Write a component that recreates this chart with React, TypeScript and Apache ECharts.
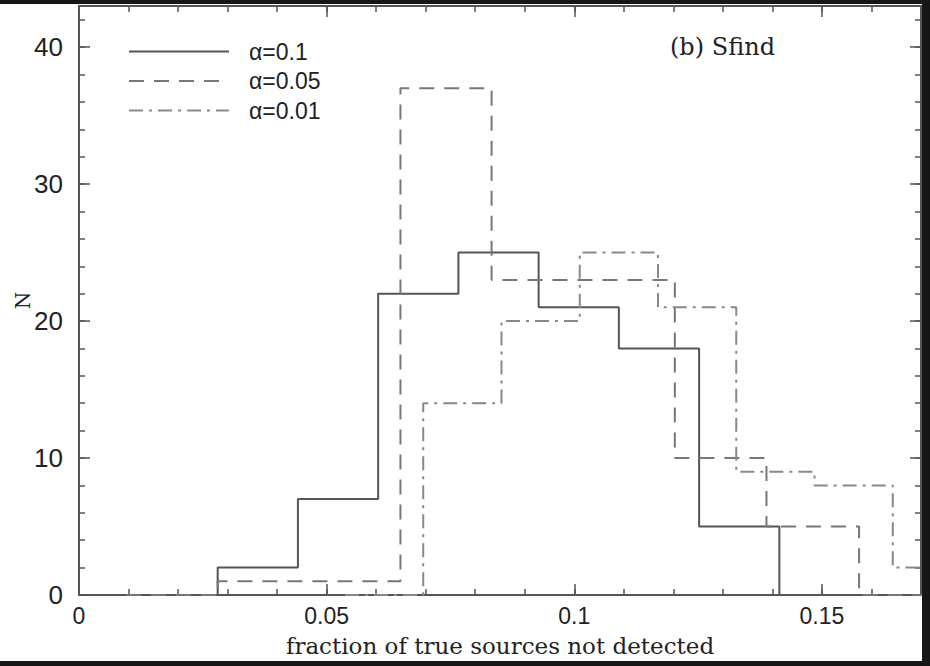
import React, { useEffect, useRef } from 'react';
import * as echarts from 'echarts';

// Histogram bin edges and counts
const solidEdges = [0.0118, 0.028, 0.0442, 0.0604, 0.0766, 0.0928, 0.109, 0.1252, 0.1414, 0.1576];
const solidCounts = [0, 2, 7, 22, 25, 21, 18, 5, 0];

const dashedEdges = [0.0095, 0.028, 0.0465, 0.0649, 0.0833, 0.1018, 0.1203, 0.1388, 0.1575, 0.176];
const dashedCounts = [0, 1, 1, 37, 23, 23, 10, 5, 0];

const dashdotEdges = [0.0537, 0.0695, 0.0853, 0.1011, 0.1169, 0.1327, 0.1485, 0.1643, 0.1801];
const dashdotCounts = [0, 14, 20, 25, 21, 9, 8, 2];

const seriesNames = ['\u03B1=0.1', '\u03B1=0.05', '\u03B1=0.01'];

const xTicks = [0, 0.05, 0.1, 0.15];
const xTickLabels = ['0', '0.05', '0.1', '0.15'];
const yTicks = [0, 10, 20, 30, 40];
const yTickLabels = ['0', '10', '20', '30', '40'];

const xTitle = 'fraction of true sources not detected';
const yTitle = 'N';
const panelLabel = '(b) Sfind';

function stepPoints(edges: number[], counts: number[]) {
  const pts: number[][] = [];
  for (let i = 0; i < counts.length; i++) {
    pts.push([edges[i], counts[i]]);
    pts.push([edges[i + 1], counts[i]]);
  }
  return pts;
}

function labelFor(ticks: number[], labels: string[]) {
  return (v: number) => {
    for (let i = 0; i < ticks.length; i++) {
      if (Math.abs(v - ticks[i]) < 1e-9) return labels[i];
    }
    return '';
  };
}

const AX = '#555';

export default function App() {
  const ref = useRef<HTMLDivElement>(null);

  useEffect(() => {
    if (!ref.current) return;
    const chart = echarts.init(ref.current, undefined, { renderer: 'svg' });

    const xBase = { type: 'value', min: 0, max: 0.17, splitLine: { show: false } };
    const yBase = { type: 'value', min: 0, max: 43, splitLine: { show: false } };
    const mainLine = { show: true, onZero: false, lineStyle: { color: AX, width: 2 } };
    const noLine = { show: false, onZero: false };
    const majorTick = { show: true, inside: true, length: 11, lineStyle: { color: AX, width: 1.5 } };
    const minorTick = { show: true, inside: true, length: 6, lineStyle: { color: AX, width: 1.5 } };

    const option: any = {
      animation: false,
      backgroundColor: '#ffffff',
      grid: { left: 79, top: 2, right: 1, bottom: 66, containLabel: false, outerBoundsMode: 'none' },
      title: {
        text: panelLabel,
        left: 670,
        top: 31,
        padding: 0,
        textStyle: { fontFamily: 'DejaVu Serif', fontSize: 24, fontWeight: 'normal', color: '#222' },
      },
      legend: {
        orient: 'vertical',
        left: 128,
        top: 36,
        padding: 0,
        itemWidth: 100,
        itemHeight: 14,
        itemGap: 6.5,
        itemStyle: { opacity: 0 },
        textStyle: {
          fontFamily: 'Liberation Sans',
          fontSize: 23,
          lineHeight: 20,
          color: '#222',
          padding: [0, 0, 0, 15],
        },
        data: seriesNames,
      },
      xAxis: [
        {
          ...xBase,
          position: 'bottom',
          interval: 0.05,
          axisLine: mainLine,
          axisTick: majorTick,
          axisLabel: {
            show: true,
            margin: 9,
            fontFamily: 'Liberation Sans',
            fontSize: 23,
            color: '#222',
            formatter: labelFor(xTicks, xTickLabels),
          },
          name: xTitle,
          nameLocation: 'middle',
          nameGap: 39,
          nameMoveOverlap: false,
          nameTextStyle: { fontFamily: 'DejaVu Serif', fontSize: 23, color: '#222' },
        },
        { ...xBase, position: 'bottom', interval: 0.01, axisLine: noLine, axisTick: minorTick, axisLabel: { show: false } },
        { ...xBase, position: 'top', interval: 0.05, axisLine: mainLine, axisTick: majorTick, axisLabel: { show: false } },
        { ...xBase, position: 'top', interval: 0.01, axisLine: noLine, axisTick: minorTick, axisLabel: { show: false } },
      ],
      yAxis: [
        {
          ...yBase,
          position: 'left',
          interval: 10,
          axisLine: mainLine,
          axisTick: majorTick,
          axisLabel: {
            show: true,
            margin: 16,
            fontFamily: 'Liberation Sans',
            fontSize: 26,
            color: '#222',
            formatter: labelFor(yTicks, yTickLabels),
          },
          name: yTitle,
          nameLocation: 'middle',
          nameGap: 46,
          nameRotate: 90,
          nameMoveOverlap: false,
          nameTextStyle: { fontFamily: 'DejaVu Serif', fontSize: 20, color: '#222' },
        },
        { ...yBase, position: 'left', interval: 2, axisLine: noLine, axisTick: minorTick, axisLabel: { show: false } },
        { ...yBase, position: 'right', interval: 10, axisLine: mainLine, axisTick: majorTick, axisLabel: { show: false } },
        { ...yBase, position: 'right', interval: 2, axisLine: noLine, axisTick: minorTick, axisLabel: { show: false } },
      ],
      series: [
        {
          name: seriesNames[0],
          type: 'line',
          xAxisIndex: 0,
          yAxisIndex: 0,
          symbol: 'none',
          clip: true,
          data: stepPoints(solidEdges, solidCounts),
          lineStyle: { color: '#555', width: 2, type: 'solid' },
          itemStyle: { color: '#555' },
        },
        {
          name: seriesNames[1],
          type: 'line',
          xAxisIndex: 0,
          yAxisIndex: 0,
          symbol: 'none',
          clip: true,
          data: stepPoints(dashedEdges, dashedCounts),
          lineStyle: { color: '#777', width: 2, type: [15, 10] },
          itemStyle: { color: '#777' },
        },
        {
          name: seriesNames[2],
          type: 'line',
          xAxisIndex: 0,
          yAxisIndex: 0,
          symbol: 'none',
          clip: true,
          data: stepPoints(dashdotEdges, dashdotCounts),
          lineStyle: { color: '#888', width: 2, type: [14, 6, 3, 6] },
          itemStyle: { color: '#888' },
        },
      ],
    };

    chart.setOption(option);
    return () => chart.dispose();
  }, []);

  return (
    <div style={{ position: 'fixed', left: 0, top: 0, width: 930, height: 666, background: '#161616' }}>
      <div style={{ position: 'absolute', left: 0, top: 4, width: 922, height: 657, background: '#fff' }}>
        <div ref={ref} style={{ width: 922, height: 657 }} />
      </div>
    </div>
  );
}
